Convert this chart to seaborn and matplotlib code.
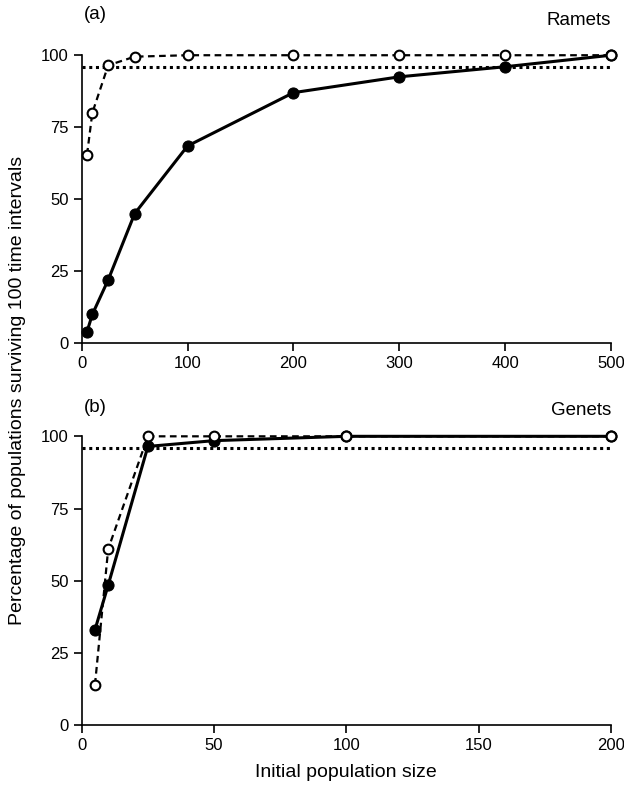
import matplotlib
matplotlib.use("Agg")
import matplotlib.pyplot as plt
import seaborn as sns

# panel (a) ramets
RAMET_SIZES = [5, 10, 25, 50, 100, 200, 300, 400, 500]
RAMET_SOLID = [4, 10, 22, 45, 68.5, 87, 92.5, 96, 100]
RAMET_OPEN = [65.5, 80, 96.5, 99.5, 100, 100, 100, 100, 100]

# panel (b) genets
GENET_SIZES = [5, 10, 25, 50, 100, 200]
GENET_SOLID = [33, 48.5, 96.5, 98.5, 100, 100]
GENET_OPEN = [14, 61, 100, 100, 100, 100]

THRESHOLD = 96

sns.set_style("ticks", {"axes.edgecolor": "black", "xtick.color": "black",
                        "ytick.color": "black", "text.color": "black",
                        "axes.labelcolor": "black"})
plt.rcParams["font.family"] = ["Liberation Sans", "DejaVu Sans"]


def draw_panel(ax, sizes, solid, opened, xmax, xticks, tag, name, tag_y, name_y):
    ax.plot([0, xmax], [THRESHOLD, THRESHOLD], color="black", linestyle=(0, (1, 1.2)),
            linewidth=2.2, clip_on=False)
    sns.lineplot(x=sizes, y=solid, ax=ax, color="black", linewidth=2.2, marker="o",
                 markersize=8, markerfacecolor="black", markeredgecolor="black",
                 clip_on=False, zorder=3)
    sns.lineplot(x=sizes, y=opened, ax=ax, color="black", linewidth=1.6,
                 linestyle=(0, (3, 2)), marker="o", markersize=7,
                 markerfacecolor="white", markeredgecolor="black", markeredgewidth=1.5,
                 clip_on=False, zorder=4)
    ax.set_xlim(0, xmax)
    ax.set_ylim(0, 100)
    ax.set_xticks(xticks)
    ax.set_yticks([0, 25, 50, 75, 100])
    ax.tick_params(labelsize=12, length=6, width=1.2, direction="out",
                   colors="black")
    for s in ["left", "bottom"]:
        ax.spines[s].set_linewidth(1.2)
    sns.despine(ax=ax)
    ax.text(0.025, tag_y, tag, transform=ax.transAxes, fontsize=13.5, ha="center", va="center")
    ax.text(1.0, name_y, name, transform=ax.transAxes, fontsize=13.5, ha="right", va="center")


fig = plt.figure(figsize=(6.24, 7.89), dpi=100)
ax_a = fig.add_axes([0.131, 0.565, 0.848, 0.365])
ax_b = fig.add_axes([0.131, 0.081, 0.848, 0.366])

draw_panel(ax_a, RAMET_SIZES, RAMET_SOLID, RAMET_OPEN, 500,
           [0, 100, 200, 300, 400, 500], "(a)", "Ramets", 1.14, 1.12)
draw_panel(ax_b, GENET_SIZES, GENET_SOLID, GENET_OPEN, 200,
           [0, 50, 100, 150, 200], "(b)", "Genets", 1.10, 1.09)

ax_b.set_xlabel("Initial population size", fontsize=14, labelpad=8)
fig.text(0.028, 0.505, "Percentage of populations surviving 100 time intervals",
         rotation=90, ha="center", va="center", fontsize=14)

fig.savefig("out.png", dpi=100)
